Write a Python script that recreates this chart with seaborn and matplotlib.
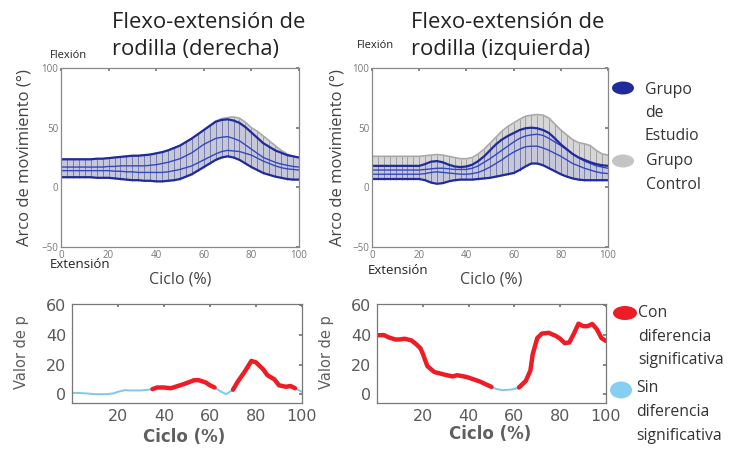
import numpy as np
import pandas as pd
import seaborn as sns
import matplotlib
matplotlib.use("Agg")
import matplotlib.pyplot as plt
from matplotlib.patches import Ellipse

# ciclo de marcha (%), cada 2.5 %
ciclo = [i * 2.5 for i in range(41)]

# rodilla derecha
der_est_sup = [23.5, 23.5, 23.5, 23.5, 23.5, 23.5, 24, 24, 24.5, 25, 25.5, 26, 26.5, 26.5, 27, 27.5, 28.5, 29.5, 31, 33,
               35, 38, 41, 44.5, 48, 51.5, 55, 56.5, 57, 56, 54, 50.5, 46, 41.5, 37, 34, 31, 29, 27, 26, 25]
der_est_inf = [8.5, 8.5, 8.5, 8.5, 8.5, 8.5, 8, 8, 8, 7.5, 7, 6.5, 6, 6, 5.5, 5.5, 5, 5, 5.5, 6,
               7, 9, 11, 14, 17, 20, 23, 25, 26, 25, 23, 20, 17, 14.5, 12, 10.5, 9, 8, 7, 6.5, 6.5]
der_est_media = [17, 17, 17, 17, 17, 17, 17, 17, 17.5, 17.5, 18, 18, 18, 18, 18, 18.5, 19, 20, 21, 22.5,
                 24, 26.5, 29, 32.5, 36, 38.5, 41, 42, 42.5, 41, 39, 35.5, 32, 28.5, 25, 23, 21, 19.5, 18.5, 17.5, 17]
der_con_sup = [23.5, 23.5, 23.5, 23.5, 23.5, 23.5, 24, 24, 24.5, 25, 25.5, 26, 26.5, 26.5, 27, 27.5, 28.5, 29.5, 31, 33,
               35, 38, 41, 44.5, 48, 52, 55.5, 57.5, 58.5, 59, 58, 54.5, 50, 47, 43, 39, 35, 31, 28, 26, 25]
der_con_inf = [8, 8, 8, 8, 8, 8, 7.5, 7.5, 7.5, 7, 6.5, 6, 5.5, 5.5, 5, 5, 4.5, 4.5, 5, 5.5,
               6.5, 8.5, 10.5, 13.5, 16.5, 19.5, 22.5, 24.5, 25.5, 24.5, 22.5, 19.5, 16.5, 14, 11.5, 10, 8.5, 7.5, 6.5, 6, 6]
der_con_media = [14, 14, 14, 14, 14, 14, 14, 14, 14, 13.5, 13.5, 13, 13, 12.5, 12.5, 12.5, 12.5, 12.5, 13, 14,
                 15, 16.5, 18, 20.5, 23, 25.5, 28, 30, 31, 30.5, 30, 28.5, 27, 24.5, 22, 20, 18, 16.5, 15.5, 15, 14.5]

# rodilla izquierda
izq_est_sup = [18, 18, 18, 18, 18, 18, 18, 18, 18, 19.5, 21.5, 22, 21, 19, 17.5, 17, 17.5, 19, 22, 26,
               31, 36, 40, 43, 45.5, 48, 49.5, 50, 49.5, 48, 45.5, 41, 36, 32, 28, 25, 23, 21, 19.5, 18.5, 18]
izq_est_inf = [7, 7, 7, 7, 7, 7, 7, 7, 7, 6, 4, 3, 3.5, 5, 6, 6.5, 6.5, 6.5, 7, 7.5,
               8, 9, 10, 11, 12, 14.5, 17.5, 20, 20, 18.5, 16, 13.5, 11, 9, 7.5, 6.5, 6, 6, 6, 6, 6]
izq_est_media = [11, 11, 11, 11, 11, 11, 11, 11, 11, 11.5, 12.5, 13, 12.5, 12, 11.5, 11, 11, 11.5, 12.5, 14.5,
                 17, 20, 23, 26.5, 29.5, 32, 34, 34.5, 34.5, 33, 31, 28.5, 26, 23, 20, 18, 16, 14.5, 13, 12, 11.5]
izq_con_sup = [26, 26, 26, 26, 26, 26, 26, 26, 26, 26.5, 27, 27.5, 27, 26, 25, 24, 24, 25, 28, 32,
               37, 42, 47, 51, 54, 57, 59.5, 60.5, 61, 60.5, 58, 53, 48, 44, 40, 37.5, 36.5, 35, 31, 28, 27]
izq_con_inf = [6.5, 6.5, 6.5, 6.5, 6.5, 6.5, 6.5, 6.5, 6.5, 6, 5, 4.5, 4.5, 5, 5.5, 6, 6, 6, 6.5, 7,
               7.5, 8.5, 9.5, 10.5, 11.5, 14, 17, 19.5, 19.5, 18, 15.5, 13, 10.5, 8.5, 7, 6, 5.5, 5.5, 5.5, 5.5, 5.5]
izq_con_media = [14.5, 14.5, 14.5, 14.5, 14.5, 14.5, 14.5, 14.5, 14.5, 15, 15.5, 16, 16, 15.5, 15, 15, 15, 16, 18, 21,
                 24, 27.5, 31, 34.5, 38, 41, 43, 44, 44.5, 43.5, 41, 38, 35, 31.5, 28, 25, 22, 20, 18, 17, 16]

# valor de p
p_der_x = [0, 3, 6, 10, 15, 18, 20, 23, 25, 28, 30, 33, 35, 37, 40, 43, 45, 48, 50, 53,
           55, 58, 60, 62, 65, 67, 70, 72, 75, 78, 80, 83, 85, 88, 90, 93, 95, 97, 100]
p_der = [0.9, 0.8, 0.5, 0, 0, 0.5, 1.6, 2.7, 2.5, 2.5, 2.5, 3, 3.4, 4.5, 4.5, 4, 5, 6.5, 7.6, 9.4,
         9.5, 8, 6, 4.5, 1.5, 0, 3, 8.3, 15, 22.5, 21.5, 17, 12.8, 10, 6, 5, 5.5, 4, 1.5]
p_der_sig = [(35, 62), (70, 97)]
p_izq_x = [0, 3, 5, 8, 10, 12, 15, 17, 19, 20, 22, 25, 30, 33, 35, 38, 40, 45, 50, 52,
           55, 58, 60, 62, 65, 67, 68, 70, 72, 75, 78, 80, 82, 84, 86, 88, 90, 92, 94, 96, 98, 100]
p_izq = [39.8, 40, 38.5, 37, 37, 37.5, 36.4, 34, 31, 27.4, 19, 15, 13, 12, 12.8, 12, 11.2, 8.5, 4.9, 3.5,
         2.7, 3, 3.5, 4.5, 9, 16, 27, 38, 41, 41.5, 39.5, 37.5, 34.5, 35, 41, 47.7, 46, 46, 47.5, 44, 38, 36]
p_izq_sig = [(0, 50), (61, 100)]

AZUL = "#1f2a9c"
AZUL_MED = "#3446c0"
GRIS = "#a8a8a8"
ROJO = "#ee1c24"
CELESTE = "#7ec8ec"

sns.set_theme(style="white")
plt.rcParams["font.family"] = ["Open Sans", "DejaVu Sans"]

fig = plt.figure(figsize=(7.33, 4.51), dpi=100)
ax_der = fig.add_axes([0.0832, 0.4523, 0.3247, 0.3969])
ax_izq = fig.add_axes([0.5075, 0.4523, 0.322, 0.3969])
bx_der = fig.add_axes([0.0982, 0.1064, 0.3138, 0.2195])
bx_izq = fig.add_axes([0.5143, 0.1064, 0.3124, 0.2195])


def banda(ax, sup, inf, est_sup, est_inf, est_media, con_media):
    ax.fill_between(ciclo, inf, sup, color="#d6d6d6", lw=0)
    ax.vlines(ciclo, inf, sup, color="#9a9a9a", lw=0.6)
    ax.plot(ciclo, sup, color=GRIS, lw=1.2)
    ax.fill_between(ciclo, est_inf, est_sup, color="#b9bedc", alpha=0.55, lw=0)
    ax.vlines(ciclo, est_inf, est_sup, color="#5a66b8", lw=0.5, alpha=0.8)
    sns.lineplot(x=ciclo, y=con_media, ax=ax, color=AZUL_MED, lw=1.0)
    sns.lineplot(x=ciclo, y=est_media, ax=ax, color=AZUL_MED, lw=1.0)
    sns.lineplot(x=ciclo, y=est_sup, ax=ax, color=AZUL, lw=1.6)
    sns.lineplot(x=ciclo, y=est_inf, ax=ax, color=AZUL, lw=1.6)
    ax.set_xlim(0, 100)
    ax.set_ylim(-50, 100)
    ax.set_xticks([0, 20, 40, 60, 80, 100])
    ax.set_yticks([-50, 0, 50, 100])
    ax.tick_params(direction="in", length=2.5, labelsize=7, colors="#777777", top=True, right=True, pad=2)
    ax.set_xlabel("")
    ax.set_ylabel("")
    for s in ax.spines.values():
        s.set_color("#888888")
        s.set_linewidth(0.9)


banda(ax_der, der_con_sup, der_con_inf, der_est_sup, der_est_inf, der_est_media, der_con_media)
banda(ax_izq, izq_con_sup, izq_con_inf, izq_est_sup, izq_est_inf, izq_est_media, izq_con_media)


def pvalor(ax, xs, ps, tramos):
    df = pd.DataFrame({"ciclo": xs, "p": ps})
    sns.lineplot(data=df, x="ciclo", y="p", ax=ax, color=CELESTE, lw=1.4)
    for a, b in tramos:
        seg = df[(df.ciclo >= a) & (df.ciclo <= b)]
        sns.lineplot(data=seg, x="ciclo", y="p", ax=ax, color=ROJO, lw=3.2)
    ax.set_xlim(0, 100)
    ax.set_ylim(-6, 61)
    ax.set_xticks([20, 40, 60, 80, 100])
    ax.set_yticks([0, 20, 40, 60])
    ax.tick_params(direction="in", length=2.5, labelsize=11.5, labelcolor="#5a5a5a", color="#777777",
                   top=True, right=True, pad=4, labelfontfamily="DejaVu Sans")
    ax.set_xlabel("")
    ax.set_ylabel("")
    for s in ax.spines.values():
        s.set_color("#777777")
        s.set_linewidth(0.9)


pvalor(bx_der, p_der_x, p_der, p_der_sig)
pvalor(bx_izq, p_izq_x, p_izq, p_izq_sig)


def px(x, y):
    return x / 733, 1 - y / 451


tit = dict(fontsize=15.8, color="#222222", va="center", ha="left")
fig.text(*px(112, 22), "Flexo-extensión de", **tit)
fig.text(*px(112, 50), "rodilla (derecha)", **tit)
fig.text(*px(411, 22), "Flexo-extensión de", **tit)
fig.text(*px(411, 50), "rodilla (izquierda)", **tit)

fig.text(*px(50, 55), "Flexión", fontsize=8, color="#222222", va="center")
fig.text(*px(357, 45), "Flexión", fontsize=8, color="#222222", va="center")
fig.text(*px(50, 264), "Extensión", fontsize=9.5, color="#222222", va="center")
fig.text(*px(368, 270), "Extensión", fontsize=9.5, color="#222222", va="center")

lab = dict(fontsize=12, color="#444444", va="center", ha="center")
fig.text(*px(25, 158), "Arco de movimiento (°)", rotation=90, **lab)
fig.text(*px(338, 158), "Arco de movimiento (°)", rotation=90, **lab)
fig.text(*px(180, 279), "Ciclo (%)", fontsize=11.5, color="#444444", va="center", ha="center")
fig.text(*px(491, 280), "Ciclo (%)", fontsize=11.5, color="#444444", va="center", ha="center")

bl = dict(color="#5f5f5f", va="center", ha="center", family="DejaVu Sans")
fig.text(*px(22, 352), "Valor de p", rotation=90, fontsize=10.5, **bl)
fig.text(*px(326, 352), "Valor de p", rotation=90, fontsize=10.5, **bl)
fig.text(*px(184, 437), "Ciclo (%)", fontweight="bold", fontsize=12, **bl)
fig.text(*px(490, 434), "Ciclo (%)", fontweight="bold", fontsize=12, **bl)

# leyendas
for (cx, cy, w, h, c) in [(623, 88, 22, 13, AZUL), (623, 161, 22, 13, "#c4c4c4"),
                          (625, 313, 24, 14, ROJO), (621, 390, 22, 17, "#87cef0")]:
    fig.patches.append(Ellipse(px(cx, cy), w / 733, h / 451, transform=fig.transFigure,
                               facecolor=c, edgecolor="none"))

leg = dict(fontsize=11.3, color="#333333", va="center", ha="left")
for txt, x, y in [("Grupo", 645, 90), ("de", 645, 113), ("Estudio", 645, 136),
                  ("Grupo", 646, 161), ("Control", 646, 185),
                  ("Con", 638, 313), ("diferencia", 638, 337), ("significativa", 638, 360),
                  ("Sin", 636, 388), ("diferencia", 636, 412), ("significativa", 636, 436)]:
    fig.text(*px(x, y), txt, **leg)

fig.savefig("out.png", dpi=100)
